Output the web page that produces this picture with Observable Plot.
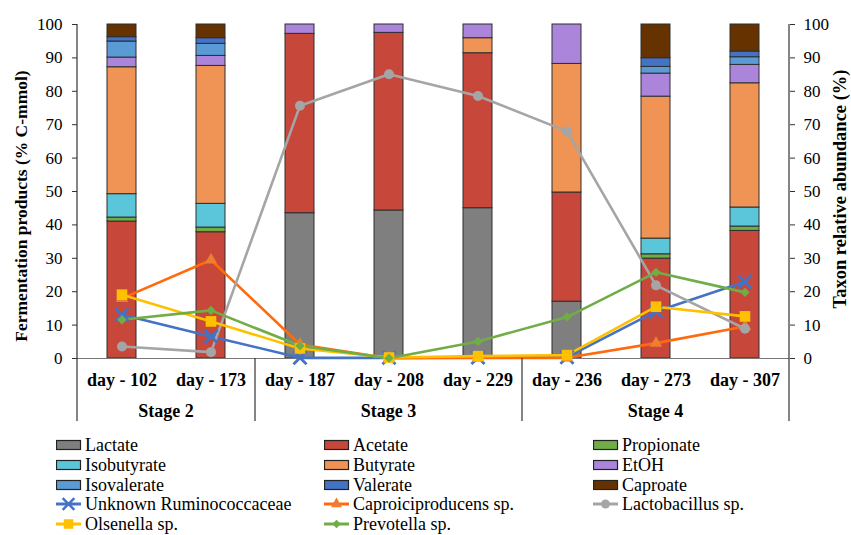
<!DOCTYPE html>
<html><head><meta charset="utf-8">
<script src="https://cdn.jsdelivr.net/npm/d3@7"></script>
<script src="https://cdn.jsdelivr.net/npm/@observablehq/plot@0.6"></script>
<style>
body{margin:0;background:#fff;font-family:"Liberation Serif","Times New Roman",serif;}
#wrap{position:relative;width:851px;height:535px;overflow:hidden;}
#wrap svg.chart{position:absolute;left:0;top:0;}
.item{position:absolute;display:flex;align-items:center;height:20px;font-size:18px;line-height:20px;color:#000;white-space:nowrap;}
.item svg{margin-right:3px;}
</style></head><body><div id="wrap"></div>
<script>
// ---- data ----
const days = ["day - 102", "day - 173", "day - 187", "day - 208", "day - 229", "day - 236", "day - 273", "day - 307"];
const stageOf = ["Stage 2", "Stage 2", "Stage 3", "Stage 3", "Stage 3", "Stage 4", "Stage 4", "Stage 4"];
const yTicks = [0, 10, 20, 30, 40, 50, 60, 70, 80, 90, 100];

const compNames = ["Lactate", "Acetate", "Propionate", "Isobutyrate", "Butyrate", "EtOH", "Isovalerate", "Valerate", "Caproate"];
const lactate     = [0, 0, 43.5, 44.3, 45.0, 17.0, 0, 0];
const acetate     = [41.0, 37.8, 53.7, 53.2, 46.4, 32.7, 29.9, 38.2];
const propionate  = [1.2, 1.4, 0, 0, 0, 0, 1.3, 1.3];
const isobutyrate = [7.0, 7.1, 0, 0, 0, 0, 4.7, 5.7];
const butyrate    = [38.0, 41.3, 0, 0, 4.5, 38.5, 42.5, 37.2];
const etoh        = [2.9, 3.0, 2.8, 2.5, 4.1, 11.8, 6.9, 5.5];
const isovalerate = [4.8, 3.6, 0, 0, 0, 0, 2.0, 2.3];
const valerate    = [1.3, 1.7, 0, 0, 0, 0, 2.6, 1.7];
const caproate    = [3.8, 4.1, 0, 0, 0, 0, 10.1, 8.1];
const compValues = [lactate, acetate, propionate, isobutyrate, butyrate, etoh, isovalerate, valerate, caproate];
const compColors = ["#7f7f7f", "#c8473b", "#70ad47", "#5bc6d9", "#ef9455", "#ab85d9", "#5b9bd5", "#4472c4", "#663300"];

const taxa = ["Unknown Ruminococcaceae", "Caproiciproducens sp.", "Lactobacillus  sp.", "Olsenella sp.", "Prevotella sp."];
const ruminococcaceae   = [13.1, 6.6, 0.2, 0.2, 0.3, 0.4, 14.1, 23.0];
const caproiciproducens = [18.0, 29.5, 4.2, 0.1, 0.2, 0.2, 4.6, 9.6];
const lactobacillus     = [3.6, 1.9, 75.7, 85.1, 78.6, 68.0, 21.9, 8.9];
const olsenella         = [19.1, 11.1, 3.0, 0.3, 0.7, 1.0, 15.5, 12.6];
const prevotella        = [11.6, 14.4, 3.8, 0.1, 5.1, 12.4, 25.8, 19.8];
const taxaValues = [ruminococcaceae, caproiciproducens, lactobacillus, olsenella, prevotella];
const taxaLineColors = ["#4472c4", "#ff6a0d", "#a5a5a5", "#ffc000", "#70ad47"];
const taxaMarkColors = ["#4472c4", "#ed7d31", "#a5a5a5", "#ffc000", "#70ad47"];
const taxaSymbols = ["times", "triangle", "circle", "square", "diamond2"];
const taxaR = [6, 4.6, 5, 6, 4.2];

// ---- tables ----
const barData = compNames.flatMap((c, j) => days.map((d, i) => ({day: d, comp: c, value: compValues[j][i]}))).filter(d => d.value > 0);
const lineData = taxa.map((t, j) => days.map((d, i) => ({day: d, taxon: t, value: taxaValues[j][i]})));

const font = "'Liberation Serif','Times New Roman',serif";

const chart = Plot.plot({
  width: 851, height: 430,
  marginLeft: 77, marginRight: 62, marginTop: 24, marginBottom: 72,
  style: {fontFamily: font, fontSize: "17px", color: "#000", background: "transparent", overflow: "visible"},
  x: {domain: days, padding: 0},
  y: {domain: [0, 100]},
  color: {domain: compNames, range: compColors},
  marks: [
    Plot.barY(barData, {x: "day", y: "value", fill: "comp", insetLeft: 30, insetRight: 30, stroke: "#2e2e2e", strokeWidth: 1}),
    Plot.axisY({anchor: "left", ticks: yTicks, tickSize: 5, tickPadding: 10, label: null, fontSize: 17, stroke: "#333"}),
    Plot.axisY({anchor: "right", ticks: yTicks, tickSize: 5, tickPadding: 9, label: null, fontSize: 17, stroke: "#333"}),
    Plot.ruleY([0], {stroke: "#777", strokeWidth: 1.2}),
    Plot.axisX({anchor: "bottom", tickSize: 0, tickPadding: 15, label: null, fontSize: 18, fontWeight: "bold"}),
    ...lineData.map((rows, j) => Plot.line(rows, {x: "day", y: "value", stroke: taxaLineColors[j], strokeWidth: 2.6})),
    ...lineData.map((rows, j) => Plot.dot(rows, taxaSymbols[j] === "times"
      ? {x: "day", y: "value", symbol: "times", r: taxaR[j], stroke: taxaMarkColors[j], strokeWidth: 2.8}
      : {x: "day", y: "value", symbol: taxaSymbols[j], r: taxaR[j], fill: taxaMarkColors[j], stroke: "none"}))
  ]
});
chart.classList.add("chart");
document.getElementById("wrap").appendChild(chart);

// ---- axis lines, group separators, stage labels, titles (through Plot's scales) ----
const xs = chart.scale("x"), ys = chart.scale("y");
const svg = d3.select(chart);
const [x0, x1] = xs.range;
const yBottom = ys.apply(0), yTop = ys.apply(100);
const g = svg.append("g").attr("stroke", "#333").attr("stroke-width", 1.2);
g.append("line").attr("x1", x0).attr("x2", x0).attr("y1", yTop).attr("y2", yBottom);
g.append("line").attr("x1", x1).attr("x2", x1).attr("y1", yTop).attr("y2", yBottom);
const stages = Array.from(new Set(stageOf));
const sepY2 = yBottom + 63;
stages.forEach((s, k) => {
  const ds = days.filter((d, i) => stageOf[i] === s);
  const left = xs.apply(ds[0]);
  const right = xs.apply(ds[ds.length - 1]) + xs.bandwidth;
  g.append("line").attr("x1", left).attr("x2", left).attr("y1", yBottom).attr("y2", sepY2);
  if (k === stages.length - 1) g.append("line").attr("x1", right).attr("x2", right).attr("y1", yBottom).attr("y2", sepY2);
  svg.append("text").attr("x", (left + right) / 2).attr("y", yBottom + 59)
    .attr("text-anchor", "middle").attr("font-family", font).attr("font-size", 18).attr("font-weight", "bold").text(s);
});
svg.append("text").attr("transform", `translate(21,${(yTop + yBottom) / 2 + 15}) rotate(-90)`)
  .attr("text-anchor", "middle").attr("dominant-baseline", "central").attr("font-family", font)
  .attr("font-size", 17.5).attr("font-weight", "bold").text("Fermentation products (% C-mmol)");
svg.append("text").attr("transform", `translate(840,${(yTop + yBottom) / 2 - 2}) rotate(-90)`)
  .attr("text-anchor", "middle").attr("dominant-baseline", "central").attr("font-family", font)
  .attr("font-size", 18.5).attr("font-weight", "bold").text("Taxon relative abundance (%)");

// ---- legend ----
const legendItems = [
  ...compNames.map((c, j) => ({label: c, type: "rect", color: compColors[j]})),
  ...taxa.map((t, j) => ({label: t, type: "line", color: taxaLineColors[j], mark: taxaMarkColors[j], symbol: taxaSymbols[j], r: taxaR[j]}))
];
const colX = [56, 324, 593];
const wrap = d3.select("#wrap");
legendItems.forEach((it, i) => {
  const col = i % 3, row = Math.floor(i / 3);
  const div = wrap.append("div").attr("class", "item")
    .style("left", colX[col] + "px").style("top", (435 + row * 19.8) + "px");
  const s = div.append("svg").attr("width", 26).attr("height", 16);
  if (it.type === "rect") {
    s.append("rect").attr("x", 0.5).attr("y", 3.5).attr("width", 24).attr("height", 9)
      .attr("fill", it.color).attr("stroke", "#222").attr("stroke-width", 1.2);
  } else {
    s.append("line").attr("x1", 0).attr("x2", 25).attr("y1", 8).attr("y2", 8)
      .attr("stroke", it.color).attr("stroke-width", 3);
    const sym = {times: d3.symbolTimes, triangle: d3.symbolTriangle, circle: d3.symbolCircle, square: d3.symbolSquare, diamond2: d3.symbolDiamond2}[it.symbol];
    const p = d3.symbol(sym, Math.PI * it.r * it.r * 0.8)();
    const m = s.append("path").attr("d", p).attr("transform", "translate(12.5,8)");
    if (it.symbol === "times") m.attr("fill", "none").attr("stroke", it.mark).attr("stroke-width", 2.5);
    else m.attr("fill", it.mark);
  }
  div.append("span").text(it.label);
});
</script>
</body></html>
